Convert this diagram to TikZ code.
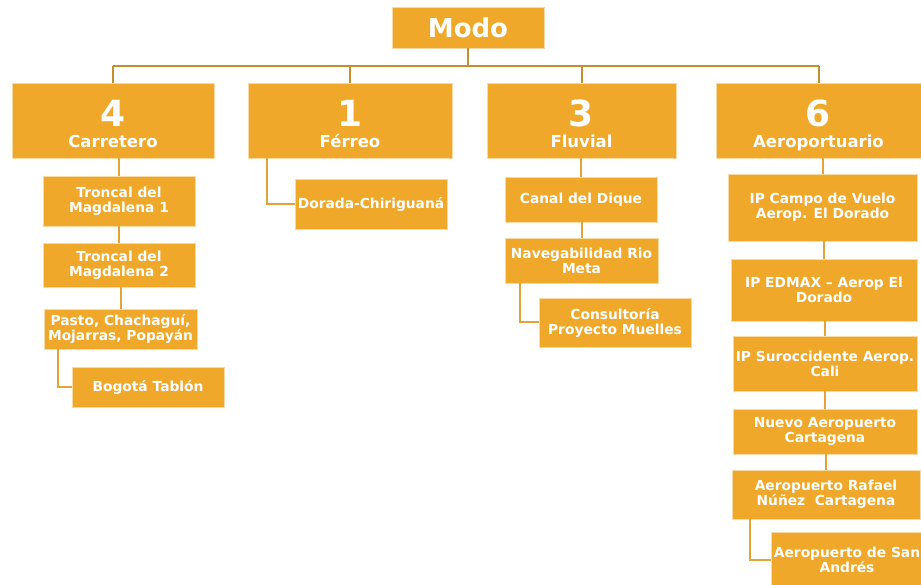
\documentclass[tikz,border=0pt]{standalone}
\usepackage{fontspec}
\setmainfont{DejaVu Sans}
\definecolor{naranja}{HTML}{EFA82A}
\definecolor{borde}{HTML}{F7D9A3}
\definecolor{linea}{HTML}{C28F2E}
\definecolor{lineab}{HTML}{E2A43A}
\newcommand{\cifra}[2]{\raisebox{0pt}[33pt][0pt]{\fontsize{36}{21}\selectfont #1}\\\smash{#2}}

\begin{document}
\begin{tikzpicture}[x=1pt, y=-1pt,
    caja/.style={fill=naranja, draw=borde, line width=0.8pt, text=white,
      align=center, inner sep=0pt, font=\bfseries\fontsize{13.8}{15}\selectfont},
    nivel/.style={caja, minimum height=75pt, font=\bfseries\fontsize{16.5}{21}\selectfont},
    bus/.style={draw=linea, line width=2pt},
    rama/.style={draw=lineab, line width=2pt}]
  \clip (0,0) rectangle (921,585);

  % raiz y modos
  \node[caja, minimum width=152pt, minimum height=41pt,
    font=\bfseries\fontsize{26}{30}\selectfont] (modo) at (468,27.5) {Modo};
  \coordinate (bus) at (0,66);
  \node[nivel, minimum width=202pt] (carretero) at (113,120.5) {\cifra{4}{Carretero}};
  \node[nivel, minimum width=204pt] (ferreo) at (350,120.5) {\cifra{1}{Férreo}};
  \node[nivel, minimum width=189pt] (fluvial) at (581.5,120.5) {\cifra{3}{Fluvial}};
  \node[nivel, minimum width=205pt] (aero) at (818.5,120.5) {\cifra{6}{Aeroportuario}};

  \draw[bus] (modo.south) -- (modo.south |- bus);
  \draw[bus] (carretero.north |- bus) -- (aero.north |- bus);
  \foreach \m in {carretero, ferreo, fluvial, aero}
    \draw[bus] (\m.north) -- (\m.north |- bus);

  % carretero
  \node[caja, minimum width=152pt, minimum height=50pt] (tm1) at (119,201) {Troncal del\\Magdalena 1};
  \node[caja, minimum width=152pt, minimum height=44pt] (tm2) at (119,265) {Troncal del\\Magdalena 2};
  \node[caja, minimum width=153pt, minimum height=40pt] (pasto) at (120.5,329) {Pasto, Chachaguí,\\Mojarras, Popayán};
  \node[caja, minimum width=152pt, minimum height=40pt] (bogota) at (148,387) {Bogotá Tablón};
  \foreach \a/\b in {carretero/tm1, tm1/tm2, tm2/pasto}
    \draw[rama] (\b.north) -- (\b.north |- \a.south);
  \draw[rama] ([xshift=14pt]pasto.south west) |- (bogota.west);

  % ferreo
  \node[caja, minimum width=152pt, minimum height=50pt] (dorada) at (371,204) {Dorada-Chiriguaná};
  \draw[rama] ([xshift=19pt]ferreo.south west) |- (dorada.west);

  % fluvial
  \node[caja, minimum width=152pt, minimum height=45pt] (canal) at (581,199.5) {Canal del Dique};
  \node[caja, minimum width=153pt, minimum height=45pt] (meta) at (581.5,260.5) {Navegabilidad Rio\\Meta};
  \node[caja, minimum width=152pt, minimum height=49pt] (muelles) at (615,322.5) {Consultoría\\Proyecto Muelles};
  \foreach \a/\b in {fluvial/canal, canal/meta}
    \draw[rama] (\b.north) -- (\b.north |- \a.south);
  \draw[rama] ([xshift=15pt]meta.south west) |- (muelles.west);

  % aeroportuario
  \node[caja, minimum width=189pt, minimum height=67pt] (campo) at (822.5,207.5) {IP Campo de Vuelo\\Aerop. El Dorado};
  \node[caja, minimum width=186pt, minimum height=62pt] (edmax) at (824,290) {IP EDMAX – Aerop El\\Dorado};
  \node[caja, minimum width=184pt, minimum height=55pt] (cali) at (825,363.5) {IP Suroccidente Aerop.\\Cali};
  \node[caja, minimum width=184pt, minimum height=45pt] (nuevo) at (825,431.5) {Nuevo Aeropuerto\\Cartagena};
  \node[caja, minimum width=188pt, minimum height=49pt] (rafael) at (826,494.5) {Aeropuerto Rafael\\Núñez~ Cartagena};
  \node[caja, minimum width=152pt, minimum height=55pt] (sanandres) at (847,559.5) {Aeropuerto de San\\Andrés};
  \foreach \a/\b in {aero/campo, campo/edmax, edmax/cali, cali/nuevo, nuevo/rafael}
    \draw[rama] (\b.north) -- (\b.north |- \a.south);
  \draw[rama] ([xshift=18pt]rafael.south west) |- (sanandres.west);
\end{tikzpicture}
\end{document}
